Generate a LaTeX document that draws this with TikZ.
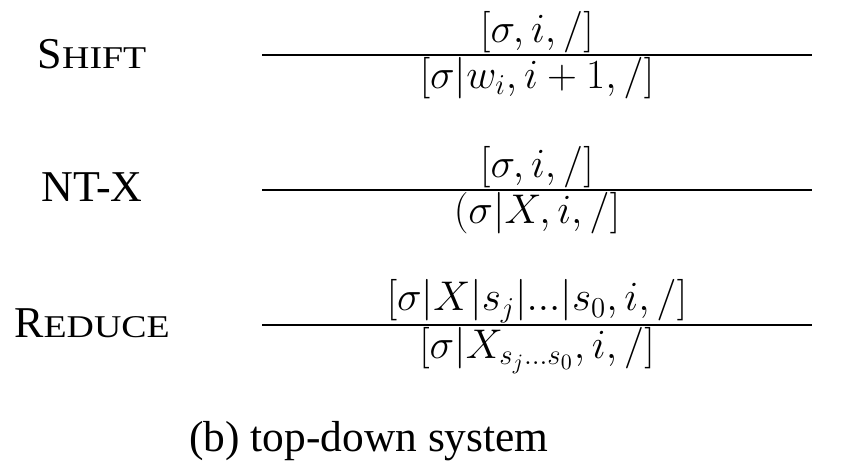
\documentclass[tikz,border=0pt]{standalone}
\usepackage{amsmath,amssymb}
\usepackage[no-math]{fontspec}
\setmainfont{Liberation Serif}
\usepackage{tikz}
\usetikzlibrary{positioning,calc}
\newcommand{\fsc}[2]{#1\scalebox{0.86}[0.72]{#2}}

\begin{document}
\begin{tikzpicture}[x=0.5pt, y=-0.5pt, font=\fontsize{22.6pt}{27pt}\selectfont,
    rulename/.style={anchor=base, font=\fontsize{22pt}{26pt}\selectfont},
    premise/.style={above, inner sep=1pt},
    concl/.style={below, inner sep=1pt},
    bar/.style={line width=1pt}]
  \useasboundingbox (0,0) rectangle (845,468);

  % Shift: one word moves onto the stack
  \coordinate (sl) at (262,55);
  \coordinate (sr) at (812,55);
  \draw[bar] (sl) -- (sr);
  \node[rulename] (shift) at (92,68) {\fsc{S}{HIFT}};
  \node[premise] (shifttop) at ($(sl)!0.5!(sr)$) {$[\sigma, i, /]$};
  \node[concl] (shiftbot) at ($(sl)!0.5!(sr)$) {$[\sigma|w_i, i+1, /]$};

  % NT-X: open a nonterminal
  \coordinate (nl) at (262,190);
  \coordinate (nr) at (812,190);
  \draw[bar] (nl) -- (nr);
  \node[rulename] (ntx) at (92,201) {NT-X};
  \node[premise] (ntxtop) at ($(nl)!0.5!(nr)$) {$[\sigma, i, /]$};
  \node[concl] (ntxbot) at ($(nl)!0.5!(nr)$) {$(\sigma|X, i, /]$};

  % Reduce: close the open nonterminal
  \coordinate (rl) at (262,325);
  \coordinate (rr) at (812,325);
  \draw[bar] (rl) -- (rr);
  \node[rulename] (reduce) at (92,337) {\fsc{R}{EDUCE}};
  \node[premise] (reducetop) at ($(rl)!0.5!(rr)$) {$[\sigma|X|s_j|...|s_0, i, /]$};
  \node[concl] (reducebot) at ($(rl)!0.5!(rr)$) {$[\sigma|X_{s_j...s_0}, i, /]$};

  \node[anchor=base, font=\fontsize{21.7pt}{26pt}\selectfont] (caption) at (369,451) {(b) top-down system};
\end{tikzpicture}
\end{document}
